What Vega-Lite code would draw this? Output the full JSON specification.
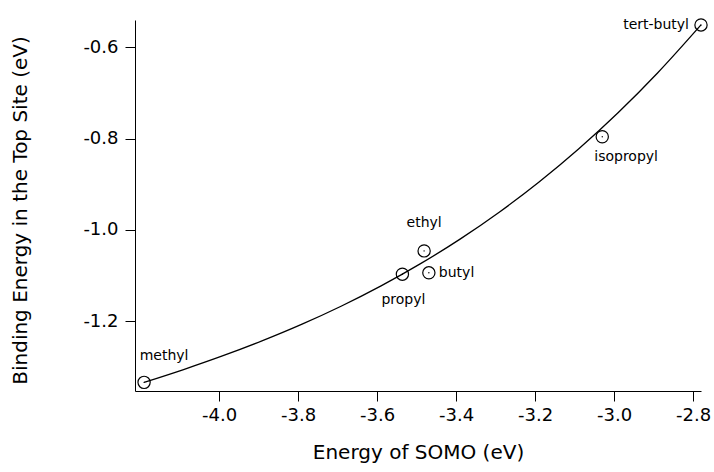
{
  "$schema": "https://vega.github.io/schema/vega-lite/v6.json",
  "width": 566,
  "height": 371,
  "autosize": {"type": "none"},
  "padding": {"left": 135, "top": 20, "right": 13, "bottom": 81},
  "background": "white",
  "config": {
    "view": {"stroke": null},
    "font": "DejaVu Sans",
    "axis": {"grid": false, "domainColor": "black", "tickColor": "black", "labelColor": "black", "titleColor": "black", "labelFont": "DejaVu Sans", "titleFont": "DejaVu Sans", "titleFontWeight": "normal", "labelFontSize": 18, "titleFontSize": 20, "tickSize": 10, "domainWidth": 1, "tickWidth": 1}
  },
  "datasets": {
    "points": [
      {"name": "methyl", "somo": -4.19, "be": -1.334},
      {"name": "ethyl", "somo": -3.481, "be": -1.046},
      {"name": "propyl", "somo": -3.536, "be": -1.097},
      {"name": "butyl", "somo": -3.469, "be": -1.094},
      {"name": "isopropyl", "somo": -3.03, "be": -0.796},
      {"name": "tert-butyl", "somo": -2.78, "be": -0.551}
    ],
    "fit": [
      {"somo": -4.19, "be": -1.334},
      {"somo": -4.09, "be": -1.3059},
      {"somo": -3.99, "be": -1.2756},
      {"somo": -3.89, "be": -1.2426},
      {"somo": -3.79, "be": -1.2065},
      {"somo": -3.69, "be": -1.1667},
      {"somo": -3.59, "be": -1.1227},
      {"somo": -3.49, "be": -1.074},
      {"somo": -3.39, "be": -1.0202},
      {"somo": -3.29, "be": -0.9607},
      {"somo": -3.19, "be": -0.8951},
      {"somo": -3.09, "be": -0.8228},
      {"somo": -2.99, "be": -0.7434},
      {"somo": -2.89, "be": -0.6563},
      {"somo": -2.78, "be": -0.551}
    ]
  },
  "encoding": {
    "x": {"field": "somo", "type": "quantitative", "scale": {"domain": [-4.213, -2.78], "nice": false, "zero": false},
      "axis": {"title": "Energy of SOMO (eV)", "values": [-4.0, -3.8, -3.6, -3.4, -3.2, -3.0, -2.8], "labelExpr": "(datum.value < 0 ? '-' : '') + format(abs(datum.value), '.1f')", "labelPadding": 5, "titleBaseline": "middle", "titleY": 61, "titlePadding": 0}},
    "y": {"field": "be", "type": "quantitative", "scale": {"domain": [-1.3529, -0.5402], "nice": false, "zero": false},
      "axis": {"title": "Binding Energy in the Top Site (eV)", "values": [-1.2, -1.0, -0.8, -0.6], "labelExpr": "(datum.value < 0 ? '-' : '') + format(abs(datum.value), '.1f')", "labelPadding": 7, "titleBaseline": "middle", "titleX": -115, "titleY": 190, "titleAngle": -90}}
  },
  "layer": [
    {"data": {"name": "fit"}, "mark": {"type": "line", "color": "black", "strokeWidth": 1.3, "interpolate": "monotone"}},
    {"data": {"name": "points"}, "mark": {"type": "point", "shape": "circle", "size": 150, "filled": false, "color": "black", "strokeWidth": 1.2, "opacity": 1}},
    {"data": {"name": "points"}, "mark": {"type": "point", "shape": "circle", "size": 2, "filled": true, "color": "black", "opacity": 1}},
    {"data": {"name": "points"}, "transform": [{"filter": "datum.name == 'methyl'"}], "mark": {"type": "text", "align": "center", "baseline": "middle", "dx": 20, "dy": -26, "fontSize": 14, "font": "DejaVu Sans"}, "encoding": {"text": {"field": "name"}}},
    {"data": {"name": "points"}, "transform": [{"filter": "datum.name == 'ethyl'"}], "mark": {"type": "text", "align": "center", "baseline": "middle", "dx": 0, "dy": -28, "fontSize": 14, "font": "DejaVu Sans"}, "encoding": {"text": {"field": "name"}}},
    {"data": {"name": "points"}, "transform": [{"filter": "datum.name == 'propyl'"}], "mark": {"type": "text", "align": "center", "baseline": "middle", "dx": 1, "dy": 26, "fontSize": 14, "font": "DejaVu Sans"}, "encoding": {"text": {"field": "name"}}},
    {"data": {"name": "points"}, "transform": [{"filter": "datum.name == 'butyl'"}], "mark": {"type": "text", "align": "left", "baseline": "middle", "dx": 10, "dy": 0, "fontSize": 14, "font": "DejaVu Sans"}, "encoding": {"text": {"field": "name"}}},
    {"data": {"name": "points"}, "transform": [{"filter": "datum.name == 'isopropyl'"}], "mark": {"type": "text", "align": "left", "baseline": "middle", "dx": -8, "dy": 20, "fontSize": 14, "font": "DejaVu Sans"}, "encoding": {"text": {"field": "name"}}},
    {"data": {"name": "points"}, "transform": [{"filter": "datum.name == 'tert-butyl'"}], "mark": {"type": "text", "align": "right", "baseline": "middle", "dx": -12, "dy": 0, "fontSize": 14, "font": "DejaVu Sans"}, "encoding": {"text": {"field": "name"}}}
  ]
}
